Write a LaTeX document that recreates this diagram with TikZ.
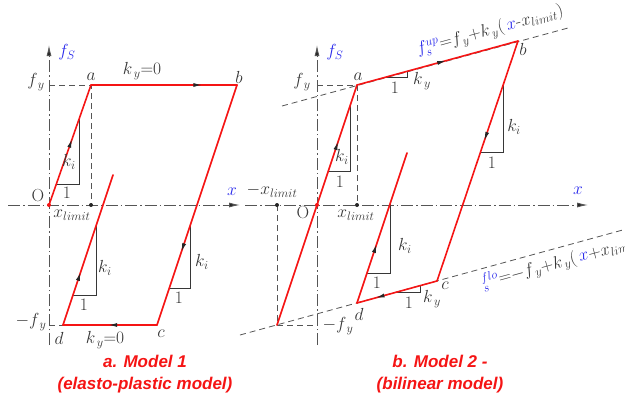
\RequirePackage{fix-cm}
\documentclass[tikz,border=0pt]{standalone}
\usepackage{fontspec}
\newfontfamily\titelfont{Liberation Sans}
\usetikzlibrary{arrows.meta,decorations.markings}

\definecolor{takrood}{RGB}{245,20,20}
\definecolor{asgrijs}{RGB}{85,85,85}
\definecolor{labelblauw}{RGB}{40,40,235}
\definecolor{inkt}{RGB}{55,55,55}

\begin{document}
\begin{tikzpicture}[x=1pt,y=-1pt,>=latex]

% --- Stijldefinities ---
\tikzset{
    aslijn/.style={
        draw=asgrijs,
        line width=0.9pt,
        dash pattern=on 12pt off 3pt on 1.5pt off 3pt
    },
    aspijl/.style={
        aslijn,
        -{Latex[length=11pt,width=5pt,fill=black!85]}
    },
    hulp/.style={
        draw=asgrijs,
        line width=0.8pt,
        dash pattern=on 6pt off 4pt
    },
    tak/.style={
        draw=takrood,
        line width=1.6pt,
        line cap=round
    },
    pijlop/.style={
        postaction={decorate},
        decoration={markings,
            mark=at position #1 with {\arrow[black!85]{Latex[length=10pt,width=4pt]}}}
    },
    helling/.style={
        draw=inkt,
        line width=0.7pt
    },
    tekst/.style={
        text=inkt,
        font=\fontsize{17.5}{20}\selectfont,
        inner sep=1pt
    },
    blauw/.style={
        tekst,
        text=labelblauw
    },
    titel/.style={
        text=takrood,
        font=\titelfont\fontsize{17}{22}\selectfont\bfseries\itshape,
        align=center
    }
}

\useasboundingbox (0,0) rectangle (625,400);

% --- Model 1: punten ---
\coordinate (O1)   at (49,205);
\coordinate (a1)   at (91,85);
\coordinate (b1)   at (237,85);
\coordinate (c1)   at (157,325);
\coordinate (d1)   at (63,325);
\coordinate (e1)   at (113,175);
\coordinate (xl1)  at (91,205);
\coordinate (fy1)  at (49,85);
\coordinate (mfy1) at (49,325);
\coordinate (xs1)  at (8,205);
\coordinate (xe1)  at (240,205);
\coordinate (ys1)  at (49,345);
\coordinate (ye1)  at (49,45);

% --- Model 1: assen en hulplijnen ---
\draw[aspijl] (xs1) -- (xe1);
\draw[aspijl] (ys1) -- (ye1);
\draw[hulp] (fy1) -- (a1) -- (xl1);
\draw[hulp] (mfy1) -- (d1);

% --- Model 1: hellingsdriehoeken ---
\draw[helling] (56,184) -- (79,184) -- (79,119);
\draw[helling] (73,295) -- (96,295) -- (96,226);
\draw[helling] (169,288) -- (190,288) -- (190,226);

% --- Model 1: takken ---
\draw[tak,pijlop=0.56] (O1) -- (a1);
\draw[tak,pijlop=0.77] (a1) -- (b1);
\draw[tak,pijlop=0.70] (b1) -- (c1);
\draw[tak,pijlop=0.53] (c1) -- (d1);
\draw[tak,pijlop=0.36] (d1) -- (e1);
\fill[takrood] (O1) circle (2pt);
\fill[black!85] (xl1) circle (2pt);

% --- Model 1: labels ---
\node[blauw] (fS1) at (67,52) {$f_S$};
\node[blauw] (x1)  at (232,192) {$x$};
\node[tekst] (lfy1) at (36,82) {$f_{\,y}$};
\node[tekst] (lmfy1) at (31,322) {$-f_{\,y}$};
\node[tekst] (lO1) at (38,196) {O};
\node[tekst] (lxl1) at (72,215) {$x_{limit}$};
\node[tekst] (la1) at (91,77) {$a$};
\node[tekst] (lb1) at (239,77) {$b$};
\node[tekst] (lc1) at (161,334) {$c$};
\node[tekst] (ld1) at (59,338) {$d$};
\node[tekst] (lky1) at (142,71) {$k_{\,y}{=}0$};
\node[tekst] (lky2) at (105,340) {$k_{\,y}{=}0$};
\node[tekst] (lki1) at (69,162) {$k_i$};
\node[tekst] (le1)  at (67,193) {1};
\node[tekst] (lki2) at (105,268) {$k_i$};
\node[tekst] (le2)  at (84,305) {1};
\node[tekst] (lki3) at (202,262) {$k_i$};
\node[tekst] (le3)  at (179,298) {1};
\node[titel] (tit1) at (145,374) {a. Model 1\\(elasto-plastic model)};

% --- Model 2: punten ---
\coordinate (O2)   at (317,205);
\coordinate (a2)   at (357,85);
\coordinate (b2)   at (518,41);
\coordinate (c2)   at (437,281);
\coordinate (d2)   at (357,303);
\coordinate (e2)   at (407,153);
\coordinate (g2)   at (277,325);
\coordinate (xl2)  at (357,205);
\coordinate (mxl2) at (277,205);
\coordinate (fy2)  at (317,85);
\coordinate (mfy2) at (317,325);
\coordinate (xs2)  at (245,205);
\coordinate (xe2)  at (588,205);
\coordinate (ys2)  at (317,345);
\coordinate (ye2)  at (317,45);
\coordinate (bs2)  at (282,106);
\coordinate (be2)  at (568,28);
\coordinate (os2)  at (240,335);
\coordinate (oe2)  at (630,228);

% --- Model 2: assen en hulplijnen ---
\draw[aspijl] (xs2) -- (xe2);
\draw[aspijl] (ys2) -- (ye2);
\draw[hulp] (fy2) -- (a2) -- (xl2);
\draw[hulp] (mxl2) -- (g2) -- (mfy2);
\draw[hulp] (bs2) -- (be2);
\draw[hulp] (os2) -- (oe2);

% --- Model 2: hellingsdriehoeken ---
\draw[helling] (328,171) -- (350,171) -- (350,106);
\draw[helling] (386,77) -- (407,77) -- (407,71);
\draw[helling] (480,152) -- (503,152) -- (503,83);
\draw[helling] (367,273) -- (390,273) -- (390,204);
\draw[helling] (397,292) -- (420,292) -- (420,286);

% --- Model 2: takken ---
\draw[tak,pijlop=0.77] (g2) -- (a2);
\draw[tak,pijlop=0.56] (a2) -- (b2);
\draw[tak,pijlop=0.42] (b2) -- (c2);
\draw[tak,pijlop=0.78] (c2) -- (d2);
\draw[tak,pijlop=0.40] (d2) -- (e2);
\fill[takrood] (O2) circle (2pt);
\fill[black!85] (xl2) circle (2pt);
\fill[black!85] (mxl2) circle (2pt);

% --- Model 2: labels ---
\node[blauw] (fS2) at (335,52) {$f_S$};
\node[blauw] (x2)  at (578,191) {$x$};
\node[tekst] (lfy2) at (302,82) {$f_{\,y}$};
\node[tekst] (lmfy2) at (338,326) {$-f_{\,y}$};
\node[tekst] (lO2) at (303,213) {O};
\node[tekst] (lxl2) at (356,215) {$x_{limit}$};
\node[tekst] (lmxl2) at (272,191) {$-x_{limit}$};
\node[tekst] (la2) at (358,77) {$a$};
\node[tekst] (lb2) at (523,49) {$b$};
\node[tekst] (lc2) at (445,286) {$c$};
\node[tekst] (ld2) at (359,314) {$d$};
\node[tekst] (lki4) at (342,157) {$k_i$};
\node[tekst] (le4)  at (340,182) {1};
\node[tekst] (lky3) at (422,81) {$k_{\,y}$};
\node[tekst] (le5)  at (395,88) {1};
\node[tekst] (lki5) at (514,127) {$k_i$};
\node[tekst] (le6)  at (492,163) {1};
\node[tekst] (lki6) at (405,246) {$k_i$};
\node[tekst] (le7)  at (377,283) {1};
\node[tekst] (lky4) at (432,299) {$k_{\,y}$};
\node[tekst] (le8)  at (409,303) {1};
\node[tekst,rotate=15.3] (fup) at (490,31)
    {$\color{labelblauw}f_s^{up}\color{inkt}{=}f_{\,y}{+}k_{\,y}(\,\color{labelblauw}x\color{inkt}\mbox{-}x_{limit})$};
\node[tekst,rotate=15.3,anchor=west] (flo) at (481,284)
    {$\color{labelblauw}{}^{flo}_{s}\color{inkt}{=}{-}f_{\,y}{+}k_{\,y}(\,\color{labelblauw}x\color{inkt}{+}x_{limit}$};
\node[titel] (tit2) at (440,374) {b. Model 2 -\\(bilinear model)};

\end{tikzpicture}
\end{document}
